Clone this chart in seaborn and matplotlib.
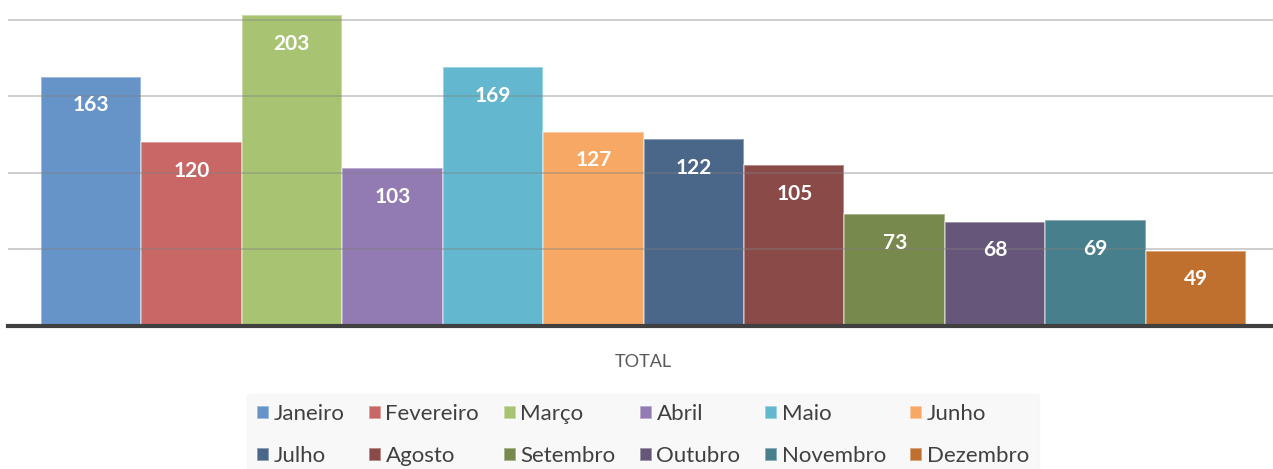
import matplotlib
matplotlib.use("Agg")
import matplotlib.pyplot as plt
import pandas as pd
import seaborn as sns

MONTHS = ["Janeiro", "Fevereiro", "Março", "Abril", "Maio", "Junho",
          "Julho", "Agosto", "Setembro", "Outubro", "Novembro", "Dezembro"]
VALUES = [163, 120, 203, 103, 169, 127, 122, 105, 73, 68, 69, 49]
CATEGORY = "TOTAL"
COLORS = ["#6794c8", "#c86766", "#a8c473", "#927bb3", "#63b8cf", "#f8a865",
          "#4a6689", "#894a48", "#77894c", "#66577a", "#487f8c", "#c0702e"]
GRID_TICKS = [50, 100, 150, 200]

df = pd.DataFrame({"cat": [CATEGORY] * len(MONTHS), "mes": MONTHS, "total": VALUES})

sns.set_theme(style="white")
plt.rcParams["font.family"] = ["Lato", "DejaVu Sans"]

fig = plt.figure(figsize=(12.73, 4.69), dpi=100)
ax = fig.add_axes([8 / 1273, 1 - 326 / 469, 1 - 8 / 1273, 326 / 469])

sns.barplot(data=df, x="cat", y="total", hue="mes", hue_order=MONTHS,
            palette=COLORS, width=0.953, dodge=True, saturation=1,
            edgecolor=(1, 1, 1, 0.45), linewidth=1.2, ax=ax, legend=True, zorder=2)

for tick in GRID_TICKS:
    ax.axhline(tick, color="#808080", alpha=0.45, linewidth=1.2, zorder=3)

for cont in ax.containers:
    for bar in cont:
        h = bar.get_height()
        ax.annotate(f"{h:.0f}", (bar.get_x() + bar.get_width() / 2, h),
                    xytext=(0, -20.5), textcoords="offset points",
                    ha="center", va="center", color="white",
                    fontsize=15, fontweight="bold", zorder=4)

ax.set_xlim(-0.5024, 0.4976)
ax.set_ylim(0, 213)
ax.set_yticks([])
ax.set_xlabel("")
ax.set_ylabel("")
for s in ["top", "right", "left"]:
    ax.spines[s].set_visible(False)
ax.spines["bottom"].set_color("#404040")
ax.spines["bottom"].set_linewidth(3)
ax.spines["bottom"].set_zorder(5)
ax.tick_params(axis="x", length=0, pad=20, labelsize=13, labelcolor="#595959")

handles, labels = ax.get_legend_handles_labels()
ax.get_legend().remove()
# matplotlib fills legend columns first; reorder so months read row by row
order = [i + r * 6 for i in range(6) for r in range(2)]
handles = [handles[i] for i in order]
labels = [labels[i] for i in order]
leg = fig.legend(handles, labels, ncol=6, loc="upper center",
                 bbox_to_anchor=(643 / 1273, 1 - 383 / 469),
                 frameon=True, fontsize=16, handlelength=0.55, handleheight=0.55,
                 handletextpad=0.2, columnspacing=1.1, labelspacing=1.0,
                 borderpad=0.45, fancybox=False)
leg.get_frame().set_facecolor("#f7f7f7")
leg.get_frame().set_edgecolor("#f7f7f7")
for t in leg.get_texts():
    t.set_color("#404040")

fig.savefig("out.png", dpi=100)
